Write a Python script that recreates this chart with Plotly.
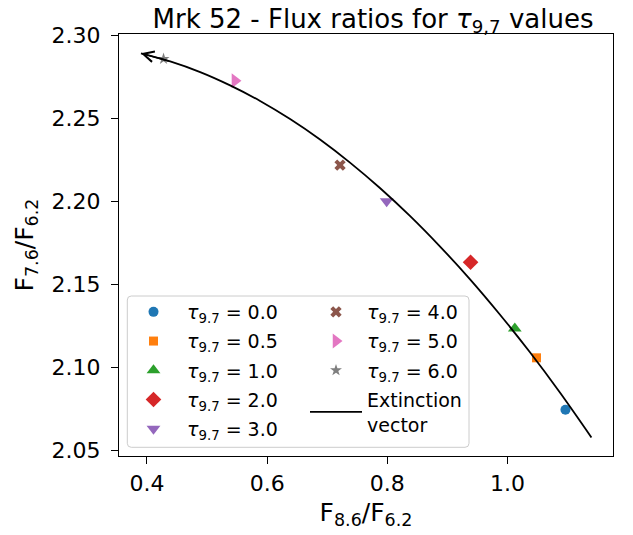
import plotly.graph_objects as go

# ---- data ----
tau_labels = ["0.0", "0.5", "1.0", "2.0", "3.0", "4.0", "5.0", "6.0"]
f86_f62 = [1.0964, 1.0482, 1.0121, 0.9385, 0.7989, 0.7213, 0.5464, 0.4276]
f76_f62 = [2.0744, 2.1057, 2.1234, 2.1632, 2.1999, 2.2217, 2.2725, 2.2856]

# extinction vector (curve)
ext_x = [1.1396, 1.0869, 1.0370, 0.9872, 0.9373, 0.8874, 0.8376, 0.7877,
         0.7379, 0.6880, 0.6382, 0.5883, 0.5384, 0.4886, 0.4387, 0.3900]
ext_y = [2.0578, 2.0850, 2.1092, 2.1318, 2.1531, 2.1728, 2.1911, 2.2079,
         2.2232, 2.2371, 2.2494, 2.2603, 2.2697, 2.2777, 2.2841, 2.2890]

x_ticks = [0.4, 0.6, 0.8, 1.0]
y_ticks = [2.05, 2.10, 2.15, 2.20, 2.25, 2.30]

# ---- styles ----
symbols = ["circle", "square", "triangle-up", "diamond", "triangle-down",
           "x", "triangle-right", "star"]
sizes = [10, 9, 12, 12, 12, 10, 13, 9]
colors = ["#1f77b4", "#ff7f0e", "#2ca02c", "#d62728", "#9467bd",
          "#8c564b", "#e377c2", "#7f7f7f"]

FONT = "DejaVu Sans"
W, H = 633, 535
ML, MR, MT, MB = 119, 20, 34, 79
PW, PH = W - ML - MR, H - MT - MB


def px_x(p):
    return (p - ML) / PW


def px_y(p):
    return (MT + PH - p) / PH


fig = go.Figure()
for i, t in enumerate(tau_labels):
    fig.add_trace(go.Scatter(
        x=[f86_f62[i]], y=[f76_f62[i]], mode="markers",
        name="<i>τ</i><sub>9.7</sub> = " + t,
        marker=dict(symbol=symbols[i], size=sizes[i], color=colors[i],
                    line=dict(width=0)),
        legend="legend" if i < 5 else "legend2",
        legendgroup="g%d" % i,
    ))

fig.add_trace(go.Scatter(
    x=ext_x, y=ext_y, mode="lines", name="Extinction<br>vector",
    line=dict(color="black", width=1.8, shape="spline"),
    legend="legend2", legendgroup="gext",
))

# arrow head at the end of the extinction vector
fig.add_annotation(
    x=ext_x[-1], y=ext_y[-1], ax=ext_x[-2], ay=ext_y[-2],
    xref="x", yref="y", axref="x", ayref="y",
    showarrow=True, arrowhead=5, arrowsize=1.4, arrowwidth=1.5,
    arrowcolor="black", text="", standoff=0,
)

# legend frame (matplotlib style rounded box)
x0, x1 = px_x(127.3), px_x(469)
y0, y1 = px_y(447.3), px_y(296)
rx, ry = 4 / PW, 4 / PH
path = (f"M{x0+rx},{y1} L{x1-rx},{y1} Q{x1},{y1} {x1},{y1-ry} "
        f"L{x1},{y0+ry} Q{x1},{y0} {x1-rx},{y0} L{x0+rx},{y0} "
        f"Q{x0},{y0} {x0},{y0+ry} L{x0},{y1-ry} Q{x0},{y1} {x0+rx},{y1} Z")
fig.add_shape(type="path", path=path, xref="paper", yref="paper",
              line=dict(color="#cccccc", width=1),
              fillcolor="rgba(255,255,255,0.8)", layer="below")

legend_common = dict(bgcolor="rgba(0,0,0,0)", borderwidth=0,
                     font=dict(family=FONT, size=19, color="black"),
                     yanchor="top", xanchor="left", tracegroupgap=1.5,
                     traceorder="grouped")

axis_common = dict(showline=True, mirror=True, linecolor="black", linewidth=1.3,
                   ticks="outside", ticklen=7, tickwidth=1.3, tickcolor="black",
                   showgrid=False, zeroline=False, automargin=False,
                   tickfont=dict(family=FONT, size=22, color="black"))

fig.update_layout(
    width=W, height=H,
    margin=dict(l=ML, r=MR, t=MT, b=MB, autoexpand=False),
    paper_bgcolor="white", plot_bgcolor="white",
    font=dict(family=FONT, color="black"),
    title=dict(text="Mrk 52 - Flux ratios for <i>τ</i><sub>9,7</sub> values",
               x=px_x(373), xref="paper", xanchor="center",
               y=1, yref="paper", yanchor="bottom", pad=dict(b=6),
               font=dict(family=FONT, size=26, color="black")),
    xaxis=dict(range=[0.3535, 1.1755], tickvals=x_ticks, tickformat=".1f",
               ticklabelstandoff=0,
               title=dict(text="F<sub>8.6</sub>/F<sub>6.2</sub>",
                          font=dict(family=FONT, size=25, color="black"),
                          standoff=8),
               **axis_common),
    yaxis=dict(range=[2.0466, 2.3006], tickvals=y_ticks, tickformat=".2f",
               ticklabelstandoff=6,
               title=dict(text="F<sub>7.6</sub>/F<sub>6.2</sub>",
                          font=dict(family=FONT, size=25, color="black"),
                          standoff=10),
               **axis_common),
    legend=dict(x=px_x(120), y=px_y(293), itemwidth=57, **legend_common),
    legend2=dict(x=px_x(305), y=px_y(293), itemwidth=52, **legend_common),
)

fig.write_html("out.html")
